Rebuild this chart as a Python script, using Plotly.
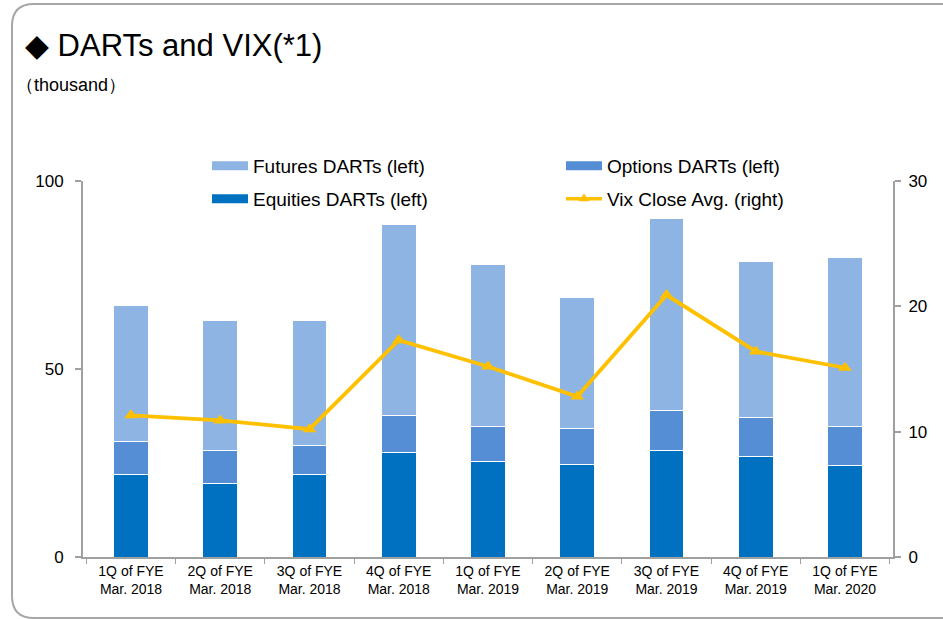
import plotly.graph_objects as go

categories = ["1Q of FYE<br>Mar. 2018", "2Q of FYE<br>Mar. 2018", "3Q of FYE<br>Mar. 2018",
              "4Q of FYE<br>Mar. 2018", "1Q of FYE<br>Mar. 2019", "2Q of FYE<br>Mar. 2019",
              "3Q of FYE<br>Mar. 2019", "4Q of FYE<br>Mar. 2019", "1Q of FYE<br>Mar. 2020"]
equities = [21.9, 19.6, 21.9, 27.9, 25.3, 24.5, 28.3, 26.7, 24.3]
options = [8.8, 8.7, 7.7, 9.7, 9.4, 9.8, 10.7, 10.3, 10.4]
futures = [36.3, 34.7, 33.4, 50.9, 43.0, 34.8, 51.1, 41.5, 45.0]
vix = [11.3, 10.9, 10.2, 17.3, 15.2, 12.8, 20.9, 16.4, 15.1]
left_ticks = [0, 50, 100]
right_ticks = [0, 10, 20, 30]

C_EQ, C_OP, C_FU, C_VIX = "#0070C0", "#558ED5", "#8EB4E3", "#FFC000"

W, H = 943, 619
PL, PR, PT, PB = 83, 893, 181, 557  # plot area in screen pixels
L, T = PL, PT
R, B = W - PR, H - PB
pw, ph = PR - PL, PB - PT


def px_x(p):
    return (p - PL) / pw


def px_y(p):
    return (PB - p) / ph


fig = go.Figure()
fig.add_trace(go.Bar(x=categories, y=equities, name="Equities DARTs (left)",
                     marker=dict(color=C_EQ, line=dict(color="white", width=1)),
                     width=0.39, showlegend=False))
fig.add_trace(go.Bar(x=categories, y=options, name="Options DARTs (left)",
                     marker=dict(color=C_OP, line=dict(color="white", width=1)),
                     width=0.39, showlegend=False))
fig.add_trace(go.Bar(x=categories, y=futures, name="Futures DARTs (left)",
                     marker=dict(color=C_FU, line=dict(color="white", width=1)),
                     width=0.39, showlegend=False))
fig.add_trace(go.Scatter(x=categories, y=vix, name="Vix Close Avg. (right)", yaxis="y2",
                         mode="lines+markers",
                         line=dict(color=C_VIX, width=3.8),
                         marker=dict(symbol="triangle-up", size=12, color=C_VIX),
                         showlegend=False))

# legend entries (wide rectangle swatches like the original)
fig.add_trace(go.Scatter(x=[None], y=[None], mode="lines", name="Futures DARTs (left)",
                         line=dict(color=C_FU, width=9), legend="legend", legendrank=1))
fig.add_trace(go.Scatter(x=[None], y=[None], mode="lines", name="Options DARTs (left)",
                         line=dict(color=C_OP, width=9), legend="legend", legendrank=2))
fig.add_trace(go.Scatter(x=[None], y=[None], mode="lines", name="Equities DARTs (left)",
                         line=dict(color=C_EQ, width=9), legend="legend2", legendrank=3))
fig.add_trace(go.Scatter(x=[None], y=[None], mode="lines+markers", name="Vix Close Avg. (right)",
                         line=dict(color=C_VIX, width=3.5),
                         marker=dict(symbol="triangle-up", size=10, color=C_VIX),
                         legend="legend2", legendrank=4))

# rounded frame
x0, x1 = px_x(12), px_x(965)
y0, y1 = px_y(618), px_y(4)
rx, ry = 22 / pw, 22 / ph
path = (f"M {x1},{y1} L {x0+rx},{y1} Q {x0},{y1} {x0},{y1-ry} "
        f"L {x0},{y0+ry} Q {x0},{y0} {x0+rx},{y0} L {x1},{y0}")
fig.add_shape(type="path", path=path, xref="paper", yref="paper",
              line=dict(color="#A6A6A6", width=2), layer="below")

fig.add_annotation(text="◆ DARTs and VIX(*1)", x=px_x(23), y=px_y(45), xref="paper", yref="paper",
                   xanchor="left", yanchor="middle", showarrow=False,
                   font=dict(size=31, color="black"))
fig.add_annotation(text="（thousand）", x=px_x(14), y=px_y(85), xref="paper", yref="paper",
                   xanchor="left", yanchor="middle", showarrow=False,
                   font=dict(size=18, color="black"))

axis_common = dict(showline=True, linecolor="#A0A0A0", linewidth=2, ticks="outside",
                   tickcolor="#A0A0A0", ticklen=6, tickwidth=1.5, showgrid=False, zeroline=False,
                   tickfont=dict(size=17, color="black"))

leg_common = dict(orientation="h", xanchor="left", yanchor="middle",
                  entrywidth=303, entrywidthmode="pixels", traceorder="normal",
                  font=dict(size=19, color="black"), bgcolor="rgba(0,0,0,0)",
                  itemwidth=36)

fig.update_layout(
    width=W, height=H,
    margin=dict(l=L, r=R, t=T, b=B),
    paper_bgcolor="white", plot_bgcolor="white",
    barmode="stack",
    font=dict(family="Liberation Sans, Arial, sans-serif", color="black"),
    showlegend=True,
    legend=dict(x=px_x(207), y=px_y(166), **leg_common),
    legend2=dict(x=px_x(207), y=px_y(199), **leg_common),
    xaxis=dict(showline=True, linecolor="#A0A0A0", linewidth=2, ticks="outside",
               tickson="boundaries", tickcolor="#A0A0A0", ticklen=5, showgrid=False,
               tickfont=dict(size=14, color="black")),
    yaxis=dict(range=[0, 100], tickvals=left_ticks, ticklabelstandoff=8, **axis_common),
    yaxis2=dict(range=[0, 30], tickvals=right_ticks, overlaying="y", side="right",
                ticklabelstandoff=4, **axis_common),
)

fig.write_html("out.html", config={"displayModeBar": False},
               post_script="document.body.style.margin='0';document.body.style.overflow='hidden';")
